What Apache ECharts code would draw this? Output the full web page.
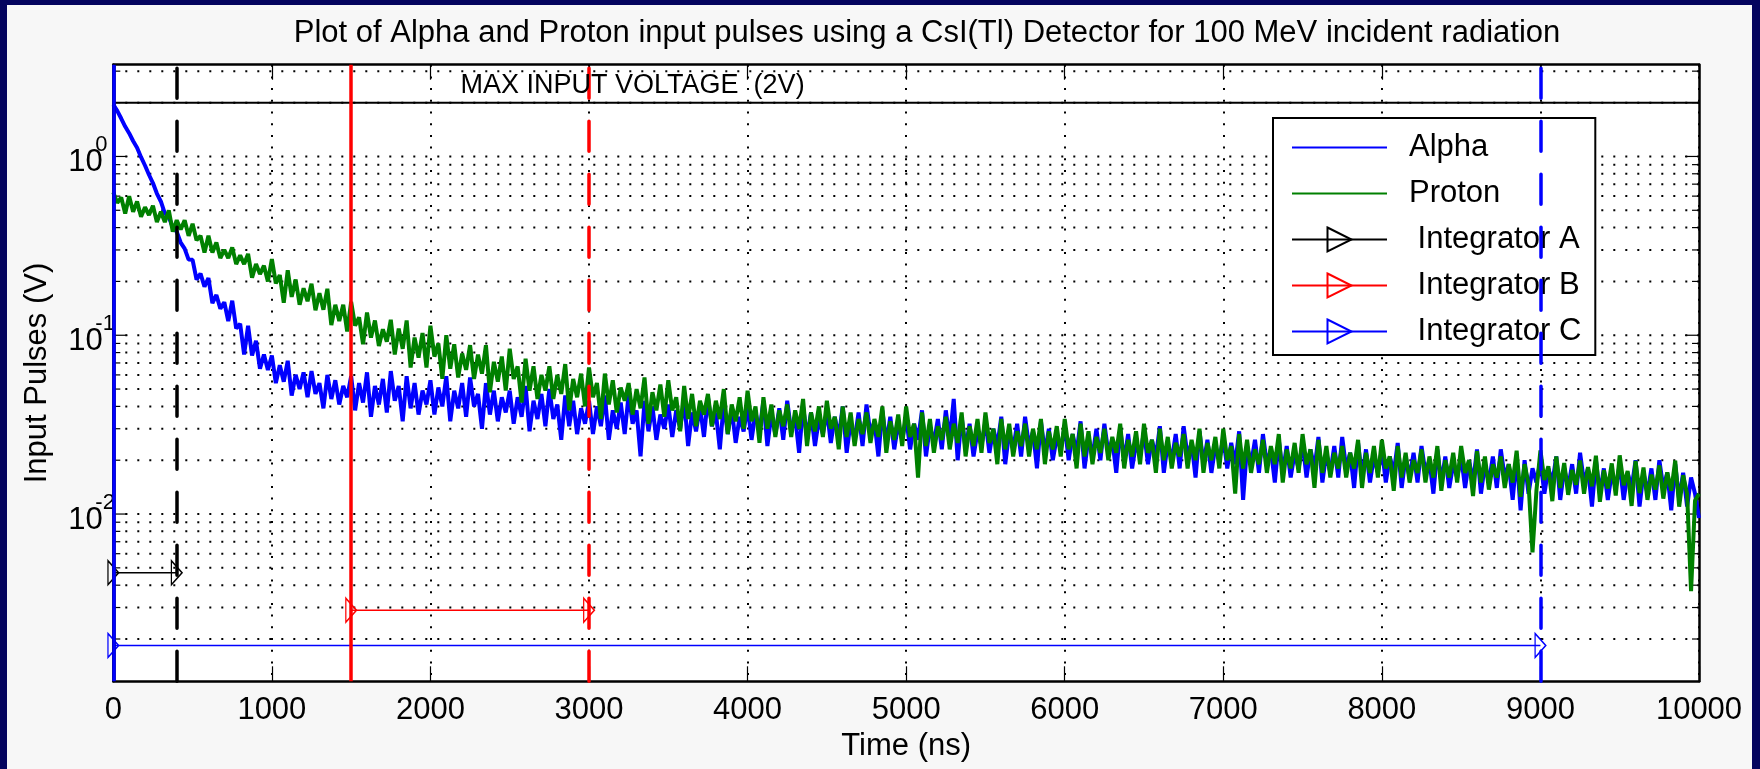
<!DOCTYPE html>
<html>
<head>
<meta charset="utf-8">
<title>Alpha and Proton input pulses</title>
<script src="https://cdn.jsdelivr.net/npm/echarts@6/dist/echarts.min.js"></script>
<style>
  html, body { margin: 0; padding: 0; background: #f7f7f7; }
  #main { width: 1760px; height: 769px; }
</style>
</head>
<body>
<div id="main"></div>
<script>
// sample spacing of the digitised pulses (ns)
const sampleStep = 25;

// Alpha pulse (V), one value every 25 ns from 0 to 10000 ns (10 per row = 250 ns)
const alpha = [
  1.95, 1.80, 1.63, 1.47, 1.35, 1.22, 1.12, 0.99, 0.89, 0.79,
  0.71, 0.62, 0.56, 0.48, 0.46, 0.40, 0.38, 0.33, 0.305, 0.265,
  0.264, 0.205, 0.221, 0.187, 0.209, 0.151, 0.168, 0.141, 0.153, 0.120,
  0.156, 0.109, 0.116, 0.078, 0.113, 0.077, 0.093, 0.065, 0.078, 0.064,
  0.077, 0.054, 0.068, 0.055, 0.072, 0.046, 0.060, 0.050, 0.062, 0.045,
  0.063, 0.047, 0.054, 0.039, 0.060, 0.044, 0.056, 0.041, 0.052, 0.045,
  0.059, 0.038, 0.054, 0.042, 0.062, 0.035, 0.052, 0.041, 0.057, 0.037,
  0.063, 0.043, 0.052, 0.033, 0.059, 0.039, 0.054, 0.036, 0.049, 0.041,
  0.056, 0.036, 0.051, 0.040, 0.059, 0.033, 0.049, 0.039, 0.054, 0.035,
  0.058, 0.040, 0.047, 0.030, 0.054, 0.036, 0.049, 0.033, 0.045, 0.037,
  0.049, 0.032, 0.045, 0.035, 0.052, 0.029, 0.043, 0.034, 0.047, 0.031,
  0.050, 0.034, 0.041, 0.026, 0.046, 0.031, 0.043, 0.028, 0.039, 0.032,
  0.043, 0.028, 0.040, 0.031, 0.046, 0.026, 0.038, 0.030, 0.042, 0.028,
  0.047, 0.032, 0.038, 0.021, 0.043, 0.029, 0.040, 0.026, 0.036, 0.030,
  0.041, 0.027, 0.038, 0.030, 0.044, 0.024, 0.037, 0.029, 0.040, 0.027,
  0.045, 0.031, 0.037, 0.023, 0.042, 0.028, 0.039, 0.025, 0.035, 0.029,
  0.040, 0.026, 0.037, 0.029, 0.043, 0.024, 0.036, 0.028, 0.039, 0.026,
  0.043, 0.029, 0.035, 0.022, 0.040, 0.027, 0.037, 0.024, 0.034, 0.028,
  0.038, 0.025, 0.035, 0.027, 0.040, 0.022, 0.033, 0.026, 0.037, 0.024,
  0.041, 0.028, 0.033, 0.021, 0.038, 0.025, 0.035, 0.023, 0.032, 0.026,
  0.035, 0.023, 0.032, 0.026, 0.038, 0.021, 0.031, 0.025, 0.034, 0.023,
  0.038, 0.026, 0.044, 0.020, 0.035, 0.023, 0.032, 0.021, 0.029, 0.024,
  0.033, 0.022, 0.030, 0.024, 0.035, 0.019, 0.029, 0.023, 0.032, 0.021,
  0.035, 0.024, 0.029, 0.018, 0.033, 0.022, 0.030, 0.020, 0.027, 0.023,
  0.031, 0.020, 0.028, 0.022, 0.033, 0.018, 0.027, 0.021, 0.030, 0.020,
  0.032, 0.022, 0.026, 0.017, 0.030, 0.020, 0.028, 0.018, 0.025, 0.021,
  0.029, 0.019, 0.026, 0.021, 0.031, 0.017, 0.025, 0.020, 0.028, 0.018,
  0.031, 0.021, 0.025, 0.016, 0.029, 0.019, 0.026, 0.017, 0.024, 0.020,
  0.027, 0.018, 0.025, 0.019, 0.029, 0.012, 0.024, 0.019, 0.026, 0.017,
  0.028, 0.019, 0.023, 0.015, 0.026, 0.017, 0.024, 0.016, 0.022, 0.018,
  0.025, 0.016, 0.023, 0.018, 0.027, 0.015, 0.022, 0.017, 0.024, 0.016,
  0.027, 0.018, 0.022, 0.014, 0.025, 0.016, 0.023, 0.015, 0.021, 0.017,
  0.023, 0.015, 0.021, 0.017, 0.025, 0.014, 0.021, 0.016, 0.022, 0.015,
  0.024, 0.017, 0.020, 0.013, 0.023, 0.015, 0.021, 0.014, 0.019, 0.016,
  0.021, 0.014, 0.020, 0.015, 0.023, 0.013, 0.019, 0.015, 0.021, 0.014,
  0.023, 0.016, 0.019, 0.012, 0.021, 0.0105, 0.020, 0.013, 0.018, 0.015,
  0.020, 0.013, 0.018, 0.015, 0.021, 0.012, 0.018, 0.014, 0.019, 0.013,
  0.022, 0.015, 0.018, 0.011, 0.020, 0.013, 0.018, 0.012, 0.017, 0.014,
  0.019, 0.012, 0.017, 0.014, 0.020, 0.011, 0.017, 0.013, 0.018, 0.012,
  0.020, 0.014, 0.017, 0.0105, 0.019, 0.012, 0.017, 0.011, 0.016, 0.013,
  0.0095
];

// Proton pulse (V), same sampling
const proton = [
  0.63, 0.55, 0.59, 0.48, 0.60, 0.49, 0.56, 0.46, 0.52, 0.47,
  0.53, 0.43, 0.49, 0.43, 0.50, 0.38, 0.44, 0.39, 0.44, 0.36,
  0.42, 0.34, 0.36, 0.29, 0.36, 0.29, 0.33, 0.27, 0.30, 0.27,
  0.31, 0.25, 0.28, 0.25, 0.285, 0.21, 0.25, 0.22, 0.245, 0.20,
  0.267, 0.195, 0.217, 0.152, 0.231, 0.164, 0.205, 0.148, 0.183, 0.155,
  0.194, 0.138, 0.172, 0.139, 0.182, 0.114, 0.148, 0.120, 0.148, 0.105,
  0.154, 0.113, 0.126, 0.089, 0.134, 0.097, 0.121, 0.087, 0.108, 0.092,
  0.122, 0.078, 0.109, 0.084, 0.121, 0.066, 0.097, 0.075, 0.103, 0.066,
  0.113, 0.076, 0.090, 0.057, 0.100, 0.065, 0.089, 0.058, 0.079, 0.064,
  0.088, 0.057, 0.078, 0.061, 0.088, 0.048, 0.071, 0.055, 0.076, 0.049,
  0.084, 0.057, 0.067, 0.042, 0.074, 0.049, 0.067, 0.044, 0.060, 0.049,
  0.067, 0.044, 0.060, 0.047, 0.069, 0.038, 0.057, 0.045, 0.061, 0.040,
  0.066, 0.045, 0.054, 0.034, 0.061, 0.041, 0.056, 0.037, 0.051, 0.043,
  0.054, 0.036, 0.050, 0.039, 0.058, 0.032, 0.048, 0.038, 0.053, 0.035,
  0.056, 0.038, 0.045, 0.029, 0.052, 0.034, 0.047, 0.031, 0.043, 0.036,
  0.047, 0.031, 0.043, 0.034, 0.050, 0.028, 0.041, 0.033, 0.045, 0.030,
  0.049, 0.033, 0.040, 0.025, 0.045, 0.030, 0.041, 0.027, 0.038, 0.031,
  0.041, 0.027, 0.038, 0.030, 0.044, 0.024, 0.037, 0.029, 0.040, 0.027,
  0.043, 0.030, 0.035, 0.023, 0.040, 0.027, 0.037, 0.024, 0.034, 0.028,
  0.037, 0.025, 0.034, 0.027, 0.040, 0.022, 0.033, 0.026, 0.036, 0.024,
  0.040, 0.027, 0.032, 0.016, 0.037, 0.024, 0.034, 0.022, 0.031, 0.026,
  0.035, 0.023, 0.032, 0.025, 0.037, 0.021, 0.031, 0.024, 0.034, 0.022,
  0.037, 0.025, 0.030, 0.019, 0.034, 0.023, 0.032, 0.021, 0.029, 0.024,
  0.032, 0.021, 0.030, 0.023, 0.034, 0.019, 0.029, 0.023, 0.031, 0.021,
  0.034, 0.023, 0.028, 0.018, 0.032, 0.021, 0.029, 0.019, 0.027, 0.022,
  0.030, 0.020, 0.027, 0.022, 0.032, 0.018, 0.026, 0.021, 0.029, 0.019,
  0.032, 0.022, 0.026, 0.017, 0.030, 0.020, 0.027, 0.018, 0.025, 0.021,
  0.028, 0.018, 0.026, 0.020, 0.030, 0.017, 0.025, 0.020, 0.027, 0.018,
  0.030, 0.020, 0.024, 0.013, 0.028, 0.018, 0.026, 0.017, 0.023, 0.019,
  0.026, 0.017, 0.024, 0.019, 0.028, 0.015, 0.023, 0.018, 0.025, 0.017,
  0.028, 0.019, 0.023, 0.014, 0.026, 0.017, 0.024, 0.016, 0.022, 0.018,
  0.024, 0.016, 0.022, 0.018, 0.026, 0.014, 0.022, 0.017, 0.024, 0.016,
  0.026, 0.018, 0.021, 0.0135, 0.024, 0.016, 0.022, 0.015, 0.020, 0.017,
  0.023, 0.015, 0.021, 0.016, 0.024, 0.0135, 0.020, 0.016, 0.022, 0.015,
  0.024, 0.017, 0.020, 0.0126, 0.0225, 0.015, 0.021, 0.0137, 0.019, 0.016,
  0.021, 0.014, 0.019, 0.015, 0.0226, 0.0125, 0.019, 0.0148, 0.0061, 0.0136,
  0.0227, 0.0155, 0.0185, 0.0118, 0.021, 0.014, 0.0193, 0.0128, 0.0176, 0.0146,
  0.0199, 0.013, 0.0183, 0.0143, 0.0212, 0.0117, 0.0176, 0.0139, 0.0192, 0.0127,
  0.0213, 0.0145, 0.0174, 0.0111, 0.0198, 0.0131, 0.0182, 0.012, 0.0166, 0.0137,
  0.0187, 0.0122, 0.0171, 0.0135, 0.0199, 0.011, 0.0165, 0.013, 0.0037, 0.0119,
  0.013
];

// integrator gates (ns) and the level (V) their arrows are drawn at
const integratorNames = ['Integrator A', 'Integrator B', 'Integrator C'];
const integratorStart = [0, 1500, 0];
const integratorEnd = [400, 3000, 9000];
const integratorLevel = [0.0047, 0.0029, 0.00184];

const maxInputVoltage = 2;

// log grid lines / ticks (V)
const yGridValues = [
  0.002, 0.003, 0.004, 0.005, 0.006, 0.007, 0.008, 0.009,
  0.01, 0.02, 0.03, 0.04, 0.05, 0.06, 0.07, 0.08, 0.09,
  0.1, 0.2, 0.3, 0.4, 0.5, 0.6, 0.7, 0.8, 0.9,
  1, 2, 3
];

const FONT = '"Liberation Sans", Arial, Helvetica, sans-serif';
const NAVY = '#04045e';
const integratorColors = ['#000000', '#ff0000', '#0000ff'];
const triangle = 'path://M0,0L16,12L0,24Z';

function isDecade(v) {
  const l = Math.log10(v);
  return Math.abs(l - Math.round(l)) < 1e-6;
}

function integratorSeries(k) {
  const c = integratorColors[k];
  return {
    name: integratorNames[k],
    type: 'line',
    data: [[integratorStart[k], integratorLevel[k]], [integratorEnd[k], integratorLevel[k]]],
    symbol: triangle,
    symbolSize: [16, 24],
    symbolKeepAspect: true,
    lineStyle: { color: c, width: 1.5 },
    itemStyle: { color: 'rgba(0,0,0,0)', borderColor: c, borderWidth: 1.5 },
    silent: true,
    markLine: {
      silent: true,
      symbol: ['none', 'none'],
      label: { show: false },
      data: [
        { xAxis: integratorStart[k], lineStyle: { color: c, width: 3.5, type: 'solid' } },
        { xAxis: integratorEnd[k], lineStyle: { color: c, width: 3.5, type: [30, 23], cap: 'round' } }
      ]
    }
  };
}

const chart = echarts.init(document.getElementById('main'));

const option = {
  animation: false,
  backgroundColor: '#f7f7f7',
  textStyle: { fontFamily: FONT },
  title: {
    text: 'Plot of Alpha and Proton input pulses using a CsI(Tl) Detector for 100 MeV incident radiation',
    left: 927,
    top: 18,
    padding: 0,
    textAlign: 'center',
    textStyle: { fontSize: 31, fontWeight: 'normal', color: '#000', fontFamily: FONT }
  },
  graphic: [
    { type: 'rect', left: 0, top: 0, shape: { width: 7, height: 769 }, style: { fill: NAVY } },
    { type: 'rect', left: 0, top: 0, shape: { width: 1760, height: 5 }, style: { fill: NAVY } },
    { type: 'rect', right: 0, top: 0, shape: { width: 8, height: 769 }, style: { fill: NAVY } }
  ],
  legend: {
    data: ['Alpha', 'Proton', 'Integrator A', 'Integrator B', 'Integrator C'],
    orient: 'vertical',
    left: 1273,
    top: 118,
    padding: [14, 14, 8, 18],
    itemWidth: 95,
    itemHeight: 30,
    itemGap: 15,
    backgroundColor: '#fff',
    borderColor: '#000',
    borderWidth: 2,
    selectedMode: false,
    formatter: function (name) {
      return name.indexOf('Integrator') === 0 ? ' ' + name : name;
    },
    textStyle: { fontSize: 31, lineHeight: 30, color: '#000', fontFamily: FONT, padding: [0, 0, 0, 17] }
  },
  grid: {
    left: 113.3,
    right: 61,
    top: 64.7,
    bottom: 87.7,
    show: true,
    backgroundColor: '#fff',
    borderWidth: 0,
    outerBoundsMode: 'none'
  },
  xAxis: [
    {
      type: 'value',
      min: 0,
      max: 10000,
      interval: 1000,
      position: 'bottom',
      axisLine: { onZero: false, lineStyle: { color: '#000', width: 2.5 } },
      axisTick: { inside: true, length: 15, lineStyle: { color: '#000', width: 1.2 } },
      axisLabel: {
        fontSize: 31, color: '#000', fontFamily: FONT, margin: 14,
        formatter: function (v) { return String(v); }
      },
      splitLine: { show: true, lineStyle: { color: '#000', width: 2, type: [2, 9.7] } },
      name: 'Time (ns)',
      nameLocation: 'middle',
      nameGap: 48,
      nameTextStyle: { fontSize: 31, color: '#000', fontFamily: FONT }
    },
    {
      type: 'value',
      min: 0,
      max: 10000,
      interval: 1000,
      position: 'top',
      axisLine: { onZero: false, lineStyle: { color: '#000', width: 2.5 } },
      axisTick: { inside: true, length: 15, lineStyle: { color: '#000', width: 1.2 } },
      axisLabel: { show: false },
      splitLine: { show: false }
    }
  ],
  yAxis: [
    {
      type: 'log',
      logBase: 10,
      min: 0.00116,
      max: 3.26,
      position: 'left',
      axisLine: { show: true, onZero: false, lineStyle: { color: '#000', width: 2.5 } },
      axisTick: { show: false },
      splitLine: { show: false },
      axisLabel: {
        margin: 45,
        align: 'left',
        padding: [12, 0, 0, 0],
        formatter: function (v) {
          if (!isDecade(v)) return '';
          return '{b|10}{e|' + Math.round(Math.log10(v)) + '}';
        },
        rich: {
          b: { fontSize: 31, width: 27, lineHeight: 57, color: '#000', fontFamily: FONT },
          e: { fontSize: 22, lineHeight: 22, verticalAlign: 'top', color: '#000', fontFamily: FONT }
        }
      },
      name: 'Input Pulses (V)',
      nameLocation: 'middle',
      nameGap: 60,
      nameTextStyle: { fontSize: 31, color: '#000', fontFamily: FONT }
    },
    {
      type: 'log',
      logBase: 10,
      min: 0.00116,
      max: 3.26,
      position: 'right',
      axisLine: { show: true, onZero: false, lineStyle: { color: '#000', width: 2.5 } },
      axisTick: { show: false },
      axisLabel: { show: false },
      splitLine: { show: false }
    }
  ],
  series: [
    {
      // dotted log grid plus minor/major ticks on both sides
      name: 'yGrid',
      type: 'custom',
      silent: true,
      data: yGridValues.map(function (v) { return [0, v]; }),
      encode: { x: 0, y: 1 },
      renderItem: function (params, api) {
        const cs = params.coordSys;
        const v = api.value(1);
        const y = api.coord([0, v])[1];
        const len = isDecade(v) ? 14 : 7;
        return {
          type: 'group',
          children: [
            { type: 'line', shape: { x1: cs.x, y1: y, x2: cs.x + cs.width, y2: y }, style: { stroke: '#000', lineWidth: 2, lineDash: [2, 10] } },
            { type: 'line', shape: { x1: cs.x, y1: y, x2: cs.x + len, y2: y }, style: { stroke: '#000', lineWidth: 1.2 } },
            { type: 'line', shape: { x1: cs.x + cs.width - len, y1: y, x2: cs.x + cs.width, y2: y }, style: { stroke: '#000', lineWidth: 1.2 } }
          ]
        };
      }
    },
    {
      name: 'Alpha',
      type: 'line',
      data: alpha.map(function (v, i) { return [i * sampleStep, v]; }),
      symbol: 'none',
      silent: true,
      lineStyle: { color: '#0000ff', width: 4 },
      itemStyle: { color: 'rgba(0,0,0,0)', borderWidth: 0 }
    },
    {
      name: 'Proton',
      type: 'line',
      data: proton.map(function (v, i) { return [i * sampleStep, v]; }),
      symbol: 'none',
      silent: true,
      lineStyle: { color: '#008000', width: 4 },
      itemStyle: { color: 'rgba(0,0,0,0)', borderWidth: 0 }
    },
    {
      name: 'maxInput',
      type: 'line',
      data: [[0, maxInputVoltage], [10000, maxInputVoltage]],
      symbol: 'none',
      silent: true,
      lineStyle: { color: '#000', width: 2 },
      markPoint: {
        silent: true,
        symbol: 'circle',
        symbolSize: 0,
        data: [{
          coord: [2190, 2.5],
          label: { show: true, position: 'right', distance: 0, formatter: 'MAX INPUT VOLTAGE  (2V)', fontSize: 27, color: '#000', fontFamily: FONT }
        }]
      }
    },
    integratorSeries(0),
    integratorSeries(1),
    integratorSeries(2)
  ]
};

chart.setOption(option);
</script>
</body>
</html>
